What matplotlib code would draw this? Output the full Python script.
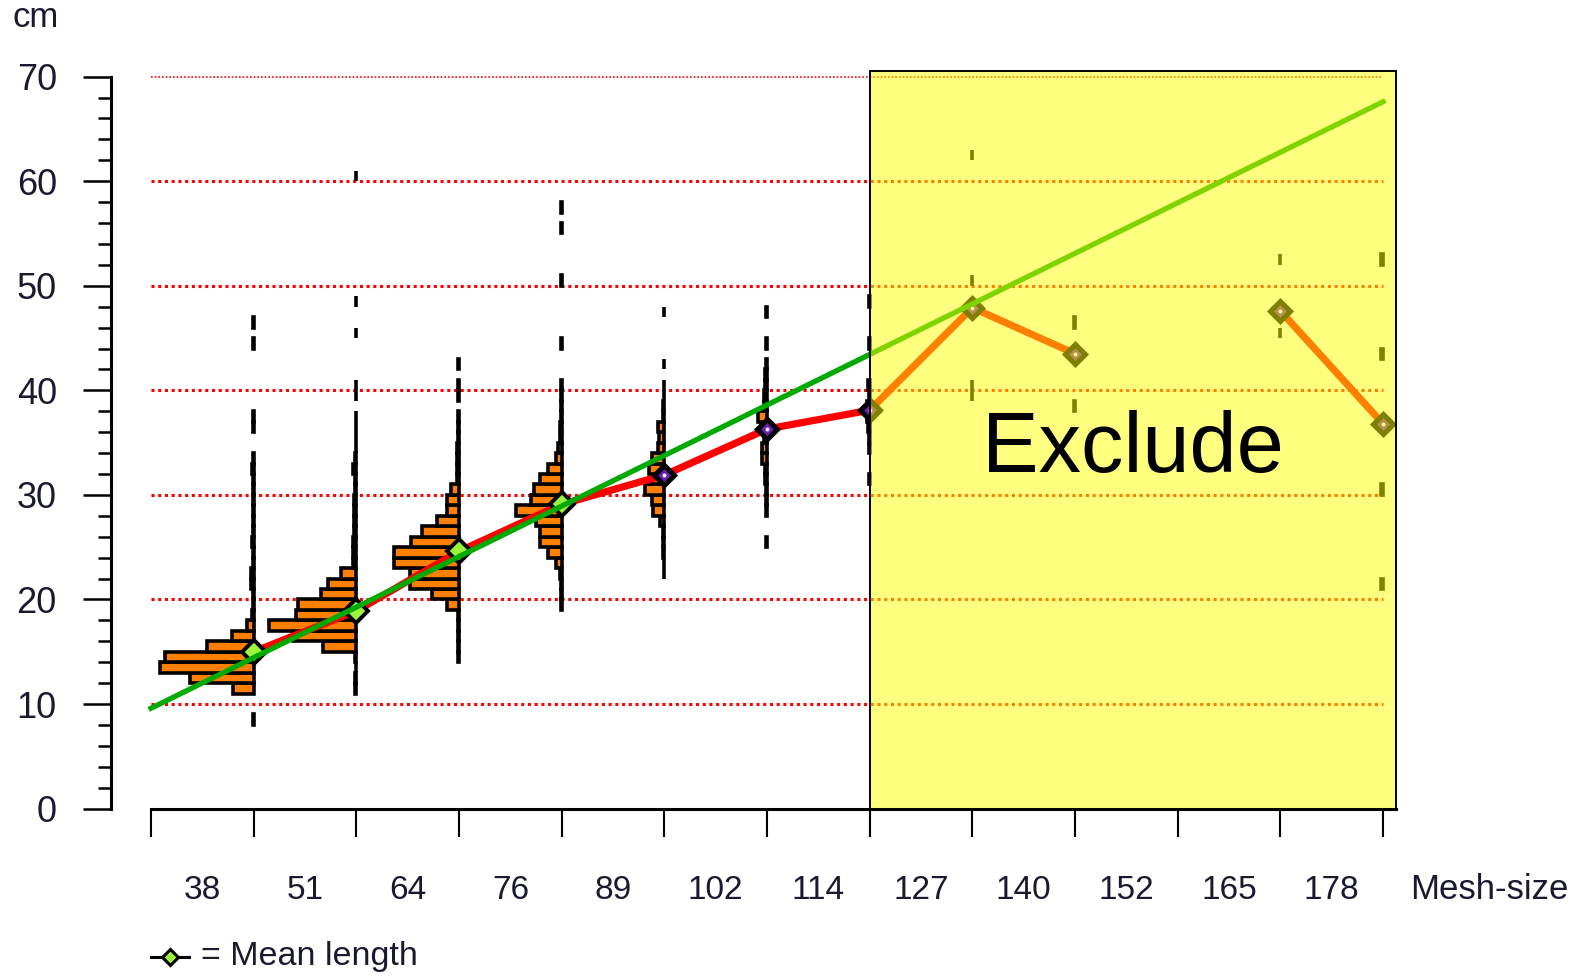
import numpy as np
import matplotlib
matplotlib.use('Agg')
from matplotlib import pyplot as plt
from matplotlib import patches as pts

plt.rcParams['font.family'] = ['Liberation Sans', 'DejaVu Sans']

# mesh-size classes and mean length (cm) of each class
mesh = ['38', '51', '64', '76', '89', '102', '114', '127', '140', '152', '165', '178']
mean_len = [15.0, 18.9, 24.6, 29.1, 31.9, 36.3, 38.1, 47.9, 43.5, np.nan, 47.6, 36.8]
# fitted selection line (mesh index, cm)
trend_x = [0, 12]
trend_y = [9.6, 67.6]

# length frequency (%) per 1 cm class, key = lower bound of the class
hist_38 = {8: 0.2, 11: 6.3, 12: 19.2, 13: 28.2, 14: 26.7, 15: 14.1, 16: 6.6, 17: 2.1,
           18: 0.6, 19: 0.3, 20: 0.3, 21: 0.9, 22: 0.9, 23: 0.3, 24: 0.3, 25: 0.6,
           26: 0.3, 27: 0.2, 28: 0.2, 29: 0.2, 30: 0.2, 31: 0.3, 32: 0.6, 33: 0.2,
           36: 0.2, 37: 0.2, 44: 0.2, 46: 0.2}
hist_51 = {11: 0.3, 12: 0.3, 13: 0.2, 14: 0.3, 15: 9.9, 16: 18.9, 17: 26.1, 18: 18.0,
           19: 17.4, 20: 10.5, 21: 8.4, 22: 4.5, 23: 0.9, 24: 0.9, 25: 0.9, 26: 0.6,
           27: 0.6, 28: 0.6, 29: 0.6, 30: 0.3, 31: 0.3, 32: 0.9, 33: 0.3, 34: 0.2,
           35: 0.2, 36: 0.2, 37: 0.2, 39: 0.2, 40: 0.2, 45: 0.2, 48: 0.2, 60: 0.2}
hist_64 = {14: 0.2, 15: 0.2, 16: 0.2, 17: 0.3, 18: 0.3, 19: 3.6, 20: 8.1, 21: 14.7,
           22: 14.7, 23: 19.5, 24: 19.5, 25: 14.4, 26: 11.1, 27: 6.6, 28: 3.6, 29: 3.6,
           30: 2.4, 31: 0.6, 32: 0.6, 33: 0.5, 34: 0.5, 35: 0.3, 36: 0.2, 37: 0.2,
           39: 0.2, 40: 0.2, 42: 0.2}
hist_76 = {19: 0.2, 20: 0.3, 21: 0.3, 22: 0.6, 23: 1.8, 24: 4.2, 25: 6.6, 26: 6.6,
           27: 7.8, 28: 13.8, 29: 9.3, 30: 8.4, 31: 6.6, 32: 4.2, 33: 1.8, 34: 1.2,
           35: 0.6, 36: 0.6, 37: 0.3, 38: 0.3, 39: 0.2, 40: 0.2, 44: 0.2, 50: 0.2,
           55: 0.2, 57: 0.2}
hist_89 = {22: 0.2, 23: 0.2, 24: 0.3, 25: 0.3, 26: 0.3, 27: 1.2, 28: 3.3, 29: 3.6,
           30: 5.7, 31: 4.2, 32: 4.5, 33: 3.6, 34: 1.8, 35: 1.5, 36: 1.8, 37: 0.3,
           38: 0.3, 39: 0.2, 40: 0.2, 42: 0.2, 47: 0.2}
hist_102 = {25: 0.2, 28: 0.2, 29: 0.3, 30: 0.3, 31: 0.6, 32: 0.6, 33: 1.5, 34: 1.5,
            35: 0.9, 36: 1.8, 37: 2.7, 38: 0.9, 39: 0.9, 40: 0.6, 41: 0.6, 42: 0.3,
            44: 0.2, 47: 0.2}
hist_114 = {31: 0.2, 34: 0.2, 35: 0.3, 36: 0.6, 37: 0.9, 38: 0.9, 39: 0.3, 40: 0.6,
            44: 0.2, 48: 0.2}
hist_127 = {39: 0.2, 40: 0.2, 50: 0.2, 62: 0.2}
hist_140 = {38: 0.2, 46: 0.2}
hist_152 = {}
hist_165 = {45: 0.2, 52: 0.2}
hist_178 = {21: 0.6, 30: 0.6, 43: 0.6, 52: 0.6}
hists = [hist_38, hist_51, hist_64, hist_76, hist_89, hist_102, hist_114,
         hist_127, hist_140, hist_152, hist_165, hist_178]

hscale = 1 / 30.8   # % -> width in mesh-class units
txt_col = '#1a1a2e'

fig = plt.figure(figsize=(15.81, 9.76), dpi=100)
ax = fig.add_axes([0.07021, 0.17152, 0.82404, 0.76066])
ax.set_xlim(-0.39, 12.3)
ax.set_ylim(0, 71)

# dotted red grid
for yv in range(10, 71, 10):
    ax.plot([0, 12], [yv, yv], color='red', lw=2.2 if yv < 70 else 1.2,
            ls=(0, (1, 1.2)), dash_capstyle='butt', zorder=1)

# length distributions hanging left of each class boundary
for i, h in enumerate(hists):
    if not h:
        continue
    xb = i + 1
    b = np.array(list(h.keys()), float)
    w = np.array(list(h.values())) * hscale
    ax.barh(b + 0.5, w, height=1, left=xb - w, color='#FF8000',
            edgecolor='black', linewidth=2.6, zorder=2)

# mean length line and markers
xm = np.arange(1, 13)
ml = np.array(mean_len)
ax.plot(xm, ml, color='red', lw=5.2, solid_capstyle='butt', zorder=3)
ax.plot(xm[:4], ml[:4], 'D', ms=12, mfc='#9BF53F', mec='black', mew=2.8,
        ls='none', zorder=4)
ax.plot(xm[4:], ml[4:], 'D', ms=10, mfc='#6A1FB0', mec='black', mew=3.6,
        ls='none', zorder=4)
ax.plot(xm[4:], ml[4:], 'o', ms=1.8, color='white', ls='none', zorder=4.5)

# selection line
ax.plot(trend_x, trend_y, color='#00AA00', lw=3.8, zorder=5)

# excluded mesh sizes
ax.add_patch(pts.Rectangle((7, 0), 5.13, 70.57, facecolor=(1, 1, 0, 0.5),
                           edgecolor='black', lw=1.4, zorder=6))
ax.text(9.56, 34.3, 'Exclude', fontsize=61, ha='center', va='center',
        color='black', zorder=7)

# axes
for s in ['top', 'right']:
    ax.spines[s].set_visible(False)
ax.spines['left'].set_bounds(0, 70)
ax.spines['bottom'].set_bounds(0, 12.13)
ax.spines['left'].set_linewidth(2.2)
ax.spines['bottom'].set_linewidth(2.2)

ax.set_xticks(range(13))
ax.set_xticklabels([])
ax.tick_params(axis='x', direction='out', length=20, width=1.5)
ax.set_yticks(range(0, 71, 10))
ax.set_yticks(range(0, 71, 2), minor=True)
ax.tick_params(axis='y', which='major', direction='out', length=20, width=1.8,
               pad=19, labelsize=26, labelcolor=txt_col)
ax.tick_params(axis='y', which='minor', direction='out', length=9.5, width=1.8)

for i, m in enumerate(mesh):
    ax.text(i + 0.5, -8.68, m, fontsize=24, ha='center', va='baseline',
            color=txt_col, clip_on=False)
ax.text(12.26, -8.68, 'Mesh-size', fontsize=25, ha='left', va='baseline',
        color=txt_col, clip_on=False)
fig.text(12 / 1581, 1 - 17.5 / 976, 'cm', fontsize=25, ha='left', va='center',
         color=txt_col)

# key
ax.plot([0, 0.37], [-14.15, -14.15], color='black', lw=2.2, clip_on=False)
ax.plot([0.185], [-14.15], 'D', ms=8.5, mfc='#9BF53F', mec='black', mew=2.2,
        clip_on=False)
ax.text(0.49, -14.15, '= Mean length', fontsize=24.5, ha='left', va='center',
        color=txt_col, clip_on=False)

fig.savefig('out.png', dpi=100)
